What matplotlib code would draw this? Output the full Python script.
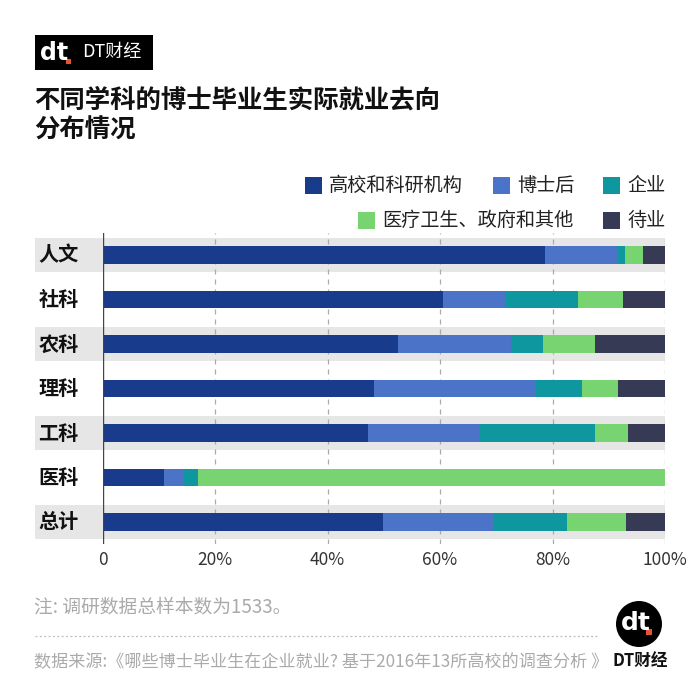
import matplotlib
matplotlib.use("Agg")
import matplotlib.pyplot as plt
from matplotlib.patches import Rectangle, Circle
from matplotlib.transforms import blended_transform_factory
from matplotlib.lines import Line2D

plt.rcParams['font.family'] = ['Noto Sans CJK SC', 'DejaVu Sans']

categories = ['人文', '社科', '农科', '理科', '工科', '医科', '总计']
series_names = ['高校和科研机构', '博士后', '企业', '医疗卫生、政府和其他', '待业']
academia = [78.7, 60.6, 52.6, 48.3, 47.2, 10.9, 49.9]
postdoc = [12.9, 11.0, 20.0, 28.7, 19.9, 3.6, 19.7]
enterprise = [1.2, 13.0, 5.7, 8.3, 20.5, 2.4, 13.0]
medical_gov = [3.2, 8.0, 9.3, 6.3, 5.8, 83.1, 10.4]
unemployed = [4.0, 7.4, 12.4, 8.4, 6.6, 0.0, 7.0]
series = [academia, postdoc, enterprise, medical_gov, unemployed]
colors = ['#183B8C', '#4B74C8', '#0E979E', '#78D470', '#363A55']
xticks = [0, 20, 40, 60, 80, 100]
xticklabels = ['0', '20%', '40%', '60%', '80%', '100%']

W, H = 700, 683
fig = plt.figure(figsize=(7, 6.83), dpi=100)

def fx(px):
    return px / W

def fy(py):
    return 1 - py / H

# axes
ax_top, ax_bot = 232.75, 544.25
ax = fig.add_axes([fx(102.5), fy(ax_bot), fx(665 - 102.5), (ax_bot - ax_top) / H])
n = len(categories)
ax.set_ylim(n - 0.5, -0.5)
ax.set_xlim(0, 100)

# alternating gray bands
trans = blended_transform_factory(ax.transAxes, ax.transData)
x0_band = (35 - 102.5) / (665 - 102.5)
for i in range(n):
    if i % 2 == 0:
        ax.add_patch(Rectangle((x0_band, i - 0.39), 1 - x0_band, 0.77, transform=trans,
                               facecolor='#e6e6e6', edgecolor='none', clip_on=False, zorder=0))

# grid
for t in xticks[1:]:
    ax.axvline(t, color='#aaaaaa', lw=0.9, ls=(0, (4, 4)), zorder=1)

# bars
left = [0.0] * n
ypos = list(range(n))
for vals, c in zip(series, colors):
    ax.barh(ypos, vals, left=left, height=0.40, color=c, edgecolor='none', zorder=2)
    left = [l + v for l, v in zip(left, vals)]

ax.axvline(0, color='#444444', lw=1.0, zorder=3)

for s in ax.spines.values():
    s.set_visible(False)
ax.set_yticks([])
ax.set_xticks(xticks)
ax.set_xticklabels(xticklabels, fontsize=12.5, color='#333333')
ax.tick_params(axis='x', length=0, pad=5)

# category labels
for i, cat in enumerate(categories):
    ax.text(x0_band + 0.006, i, cat, transform=trans, ha='left', va='center',
            fontsize=14.5, fontweight='bold', color='#111111')

# header logo box
fig.patches.append(Rectangle((fx(35), fy(70)), fx(118), 35 / H, transform=fig.transFigure,
                             facecolor='black', edgecolor='none'))
fig.text(fx(40), fy(53), 'dt', fontsize=17, fontweight='bold', color='white',
         family='DejaVu Sans', va='center', ha='left')
fig.patches.append(Rectangle((fx(66), fy(64)), fx(5), 5 / H, transform=fig.transFigure,
                             facecolor='#e8542f', edgecolor='none'))
fig.text(fx(82), fy(52), 'DT财经', fontsize=13, color='white', va='center', ha='left')

# title
fig.text(fx(34), fy(100), '不同学科的博士毕业生实际就业去向', fontsize=18.3, fontweight='bold',
         color='#111111', va='center', ha='left')
fig.text(fx(34), fy(130), '分布情况', fontsize=18.3, fontweight='bold',
         color='#111111', va='center', ha='left')

# legend
legend_items = [
    (305, 185.5, 0), (493, 185.5, 1), (603, 185.5, 2),
    (358, 220, 3), (603, 220, 4),
]
for lx, ly, k in legend_items:
    fig.patches.append(Rectangle((fx(lx), fy(ly + 8.5)), fx(17), 17 / H, transform=fig.transFigure,
                                 facecolor=colors[k], edgecolor='none'))
    fig.text(fx(lx + 24), fy(ly), series_names[k], fontsize=13.8, color='#222222',
             va='center', ha='left')

# footer
fig.text(fx(34), fy(607), '注: 调研数据总样本数为1533。', fontsize=13.5, color='#aaaaaa',
         va='center', ha='left')
fig.add_artist(Line2D([fx(35), fx(598)], [fy(636), fy(636)], transform=fig.transFigure,
                      color='#bbbbbb', lw=0.9, ls=(0, (1.5, 2))))
fig.text(fx(34), fy(662), '数据来源:《哪些博士毕业生在企业就业? 基于2016年13所高校的调查分析 》',
         fontsize=12.3, color='#aaaaaa', va='center', ha='left')

# right logo
circ_ax = fig.add_axes([fx(616), fy(647), fx(46), 46 / H])
circ_ax.set_xlim(0, 1)
circ_ax.set_ylim(0, 1)
circ_ax.set_aspect('equal')
circ_ax.axis('off')
circ_ax.add_patch(Circle((0.5, 0.5), 0.5, facecolor='black', edgecolor='none'))
circ_ax.text(0.44, 0.52, 'dt', fontsize=18, fontweight='bold', color='white',
             family='DejaVu Sans', ha='center', va='center')
circ_ax.add_patch(Rectangle((0.66, 0.27), 0.12, 0.12, facecolor='#e8542f', edgecolor='none'))
fig.text(fx(640), fy(661), 'DT财经', fontsize=12, color='#111111', fontweight='bold',
         va='center', ha='center')

fig.savefig('out.png', dpi=100, facecolor='white')
